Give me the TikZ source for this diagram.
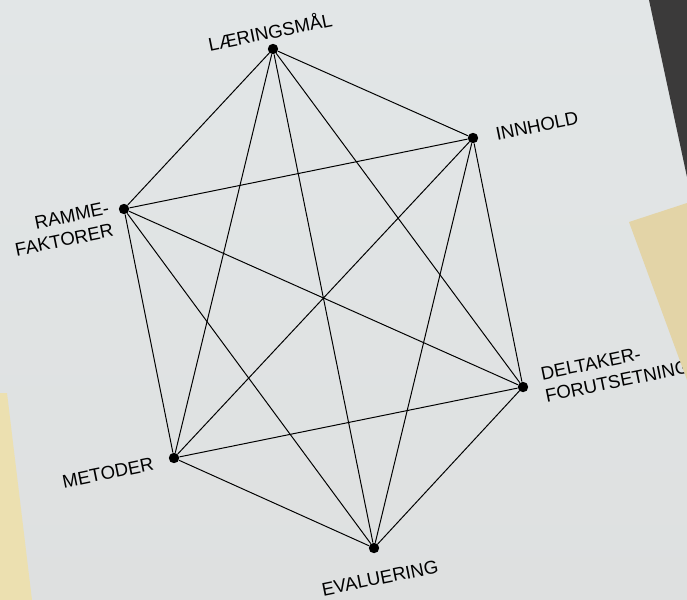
\documentclass[tikz,border=0pt]{standalone}
\usepackage{fontspec}
\setsansfont{Liberation Sans}
\definecolor{dmPaperTop}{HTML}{E2E6E7}
\definecolor{dmPaperLow}{HTML}{DEE0E0}
\definecolor{dmWall}{HTML}{3B3A3A}
\definecolor{dmTape}{HTML}{E3D4A7}
\definecolor{dmTapeL}{HTML}{ECE0B0}
\tikzset{
  kdot/.style={circle, fill=black, minimum size=2.6mm, inner sep=0pt},
  lbl/.style={font=\sffamily\fontsize{13.2}{16}\selectfont, rotate=11.5, inner sep=0pt},
  link/.style={line width=0.7pt, black}
}

\begin{document}
\begin{tikzpicture}[x=0.025cm, y=-0.025cm]
  % paper, wall behind it, tape strips
  \useasboundingbox (0,0) rectangle (687,600);
  \shade[top color=dmPaperTop, bottom color=dmPaperLow] (0,0) rectangle (687,600);
  \fill[dmWall] (649,0) -- (687,0) -- (687,177) -- cycle;
  % the six corners of the hexagon
  \node[kdot] (lm)  at (273,49)  {};
  \node[kdot] (inn) at (473,138) {};
  \node[kdot] (rf)  at (124,209) {};
  \node[kdot] (dt)  at (523,387) {};
  \node[kdot] (met) at (174,458) {};
  \node[kdot] (eva) at (374,548) {};
  % labels (tilted with the sheet)
  \node[lbl] (lmtxt)  at (270,31)  {LÆRINGSMÅL};
  \node[lbl] (inntxt) at (537,126) {INNHOLD};
  \node[lbl, align=right] (rftxt) at (62,229) {RAMME-\\FAKTORER};
  \node[lbl, align=left, anchor=west] (dttxt) at (543,385) {DELTAKER-\\FORUTSETNING};
  \node[lbl] (mettxt) at (108,473) {METODER};
  \node[lbl] (evatxt) at (380,578) {EVALUERING};
  % every corner joined to every other corner
  \draw[link] (lm) -- (inn);
  \draw[link] (lm) -- (rf);
  \draw[link] (lm) -- (dt);
  \draw[link] (lm) -- (met);
  \draw[link] (lm) -- (eva);
  \draw[link] (inn) -- (rf);
  \draw[link] (inn) -- (dt);
  \draw[link] (inn) -- (met);
  \draw[link] (inn) -- (eva);
  \draw[link] (rf) -- (dt);
  \draw[link] (rf) -- (met);
  \draw[link] (rf) -- (eva);
  \draw[link] (dt) -- (met);
  \draw[link] (dt) -- (eva);
  \draw[link] (met) -- (eva);
  % tape on top
  \fill[dmTape] (629,222) -- (687,203) -- (687,380) -- cycle;
  \fill[dmTapeL] (0,393) -- (7,393) -- (32,600) -- (0,600) -- cycle;
\end{tikzpicture}
\end{document}
